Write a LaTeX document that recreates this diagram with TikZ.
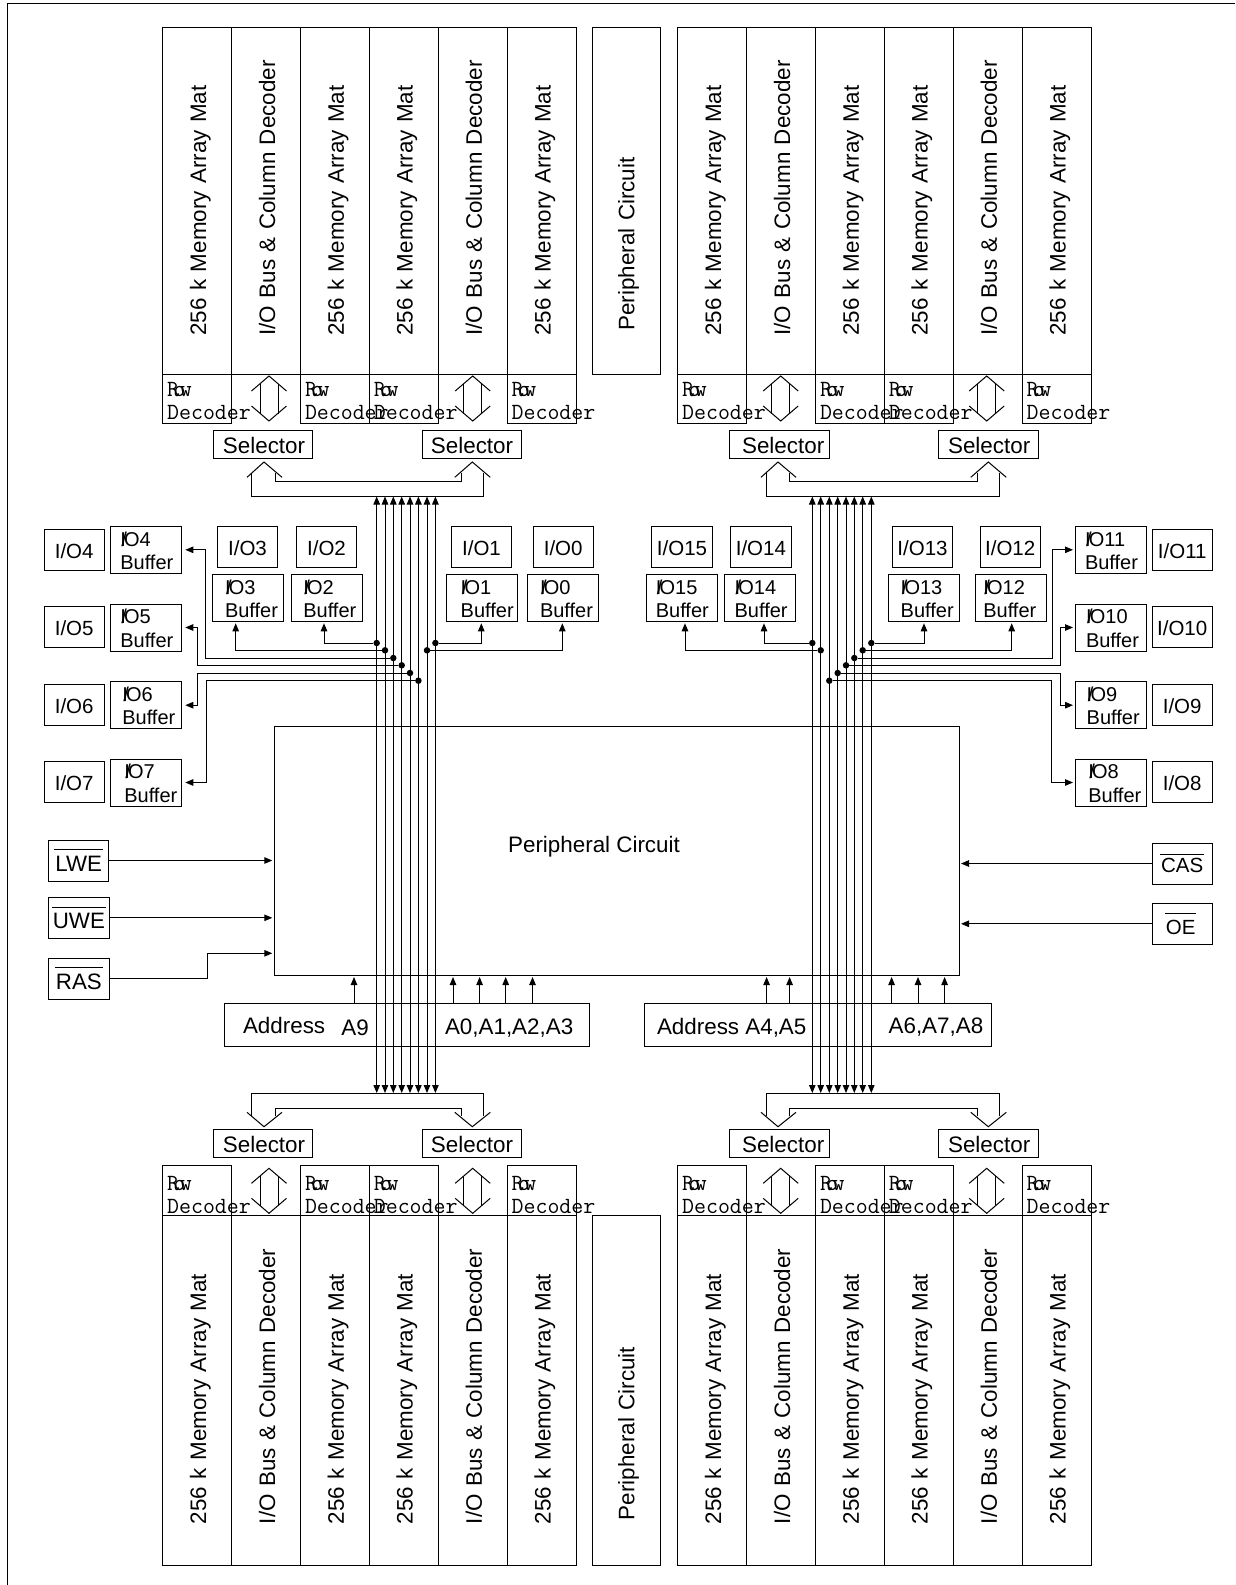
\documentclass[tikz,border=0pt]{standalone}
\usepackage{fontspec}
\setmainfont{Liberation Sans}
\usepackage{tikz}
\usetikzlibrary{arrows.meta}

\newcommand{\bigfont}{\fontsize{22.4pt}{26pt}\selectfont}
\newcommand{\iofont}{\fontsize{20.5pt}{23.3pt}\selectfont}
\newcommand{\bufffont}{\fontsize{20pt}{23.3pt}\selectfont}
\newcommand{\sigfont}{\fontsize{22.3pt}{25pt}\selectfont}
\newcommand{\rowfont}{\ttfamily\fontsize{23.2pt}{22.5pt}\selectfont}
\newcommand{\tightio}{I\kern-4.5pt/\kern-2.8pt O}
\newcommand{\matlab}{\rule{0pt}{22.4pt}256 k Memory Array Mat}
\newcommand{\buslab}{\rule{0pt}{18.4pt}I/O Bus \& Column Decoder}
\newcommand{\perlab}{\rule{0pt}{20.4pt}Peripheral Circuit}
\newcommand{\rowdec}{\mbox{R\kern-5.6pt o\kern-5.6pt w}\\\mbox{Decoder}}
\newcommand{\barsig}[2]{\vbox{\hrule height 1pt\kern#2pt\hbox{\kern1pt #1\kern1pt}}}

\begin{document}
\begin{tikzpicture}[
x=1pt, y=-1pt,
line width=1pt,
every node/.style={inner sep=0pt, outer sep=0pt},
matbox/.style={draw, rotate=90, anchor=north east, minimum height=68.9pt, align=left, font=\bigfont},
decbox/.style={draw, anchor=north west, minimum width=68.9pt, minimum height=49.5pt},
dectext/.style={anchor=south west, align=left, font=\rowfont},
selbox/.style={draw, anchor=north west, minimum width=99.7pt, minimum height=28.5pt, font=\bigfont},
iobox/.style={draw, anchor=north west, minimum width=60.4pt, minimum height=41pt, font=\iofont},
bufbox/.style={draw, anchor=north west, minimum width=71pt, minimum height=47pt, text width=71pt, align=left, font=\bufffont},
sigbox/.style={draw, anchor=north west, minimum width=60.2pt, minimum height=41pt, font=\sigfont},
addrbox/.style={draw, anchor=north west, minimum height=42.7pt},
plain/.style={font=\bigfont},
dot/.style={circle, fill=black, minimum size=6.5pt},
arrow/.style={-{Triangle[length=8pt,width=6.5pt]}, shorten >=2pt},
busline/.style={{Triangle[length=8pt,width=6.5pt]}-{Triangle[length=8pt,width=6.5pt]}}
]
\useasboundingbox (0,0) rectangle (1235,1585);

% frame
\coordinate (frameb) at (7.5,1585);
\coordinate (framec) at (7.5,3.5);
\coordinate (framer) at (1235,3.5);
\draw (frameb) -- (framec) -- (framer);

% memory blocks
\foreach \grp/\xo/\yt/\colh/\gap/\yd/\yb in {tl/162.7/27.3/346.7/38.5/374/419.3, tr/677.7/27.3/346.7/38.5/374/419.3, bl/162.7/1215.3/350.4/41.7/1165.7/1213.2, br/677.7/1215.3/350.4/41.7/1165.7/1213.2} {
    \foreach \i/\lab in {1/\matlab,2/\buslab,3/\matlab,4/\matlab,5/\buslab,6/\matlab} {
        \pgfmathsetmacro{\cx}{\xo+(\i-1)*68.9}
        \node[matbox, text width=\colh pt] (\grp\i) at (\cx,\yt) {\hspace*{\gap pt}\lab};
    }
    \foreach \i in {1,3,4,6} {
        \pgfmathsetmacro{\cx}{\xo+(\i-1)*68.9}
        \node[decbox] (rd\grp\i) at (\cx,\yd) {};
        \node[dectext] (rt\grp\i) at (\cx+4.5,\yb) {\rowdec};
    }
}
\node[matbox, text width=346.7pt] (pctop) at (592,27.3) {\hspace*{43.5pt}\perlab};
\node[matbox, text width=350.4pt] (pcbot) at (592,1215.3) {\hspace*{45.7pt}\perlab};

% double arrows between the decoders
\foreach \xc in {269,472.7,780.7,986.7} {
    \foreach \ya/\yw/\yv/\yx/\yz in {376/391/384/414/406, 1168.3/1183.3/1176.3/1206.3/1198.3} {
        \pgfmathsetmacro{\yy}{\ya+45}
        \draw ({\xc-17.5},\yw) -- (\xc,\ya) -- ({\xc+17.5},\yw);
        \draw ({\xc-17.5},\yz) -- (\xc,\yy) -- ({\xc+17.5},\yz);
        \draw ({\xc-9},\yv) -- ({\xc-9},\yx);
        \draw ({\xc+9},\yv) -- ({\xc+9},\yx);
    }
}

% selectors
\foreach \name/\xs/\ys/\off in {s1/213.2/430/2, s2/422.2/430/0, s3/729.3/430/8, s4/938.3/430/2, s5/213.2/1129/2, s6/422.2/1129/0, s7/729.3/1129/8, s8/938.3/1129/2} {
    \node[selbox] (\name) at (\xs,\ys) {\hspace*{\off pt}\rule{0pt}{19.6pt}Selector};
}

% hollow bus arrows
\foreach \xa/\xb/\xo/\xp/\xi/\xj in {264/472.3/251.7/483.7/275.7/461.7, 778/988.3/766/999.7/789.3/977.7} {
    \foreach \ya/\yw/\ys/\yi/\yo in {462/477.3/473/481.3/496, 1126.7/1112.3/1115.7/1108/1093.7} {
        \draw ({\xa-17},\yw) -- (\xa,\ya) -- ({\xa+18},\yw);
        \draw ({\xb-17.5},\yw) -- (\xb,\ya) -- ({\xb+18},\yw);
        \draw (\xo,\ys) -- (\xo,\yo) -- (\xp,\yo) -- (\xp,\ys);
        \draw (\xi,\ys) -- (\xi,\yi) -- (\xj,\yi) -- (\xj,\ys);
    }
}

% buffers
\foreach \n/\xb/\yb/\off in {4/110.3/526.3/10, 5/110.3/604/10, 6/110.3/681.7/12, 7/110.3/759/14, 3/212.3/574.3/12.7, 2/291/574.3/12.3, 1/446/574.3/14.7, 0/527/574.3/13, 15/646.8/574.3/9, 14/724.6/574.3/10, 13/888.3/574.3/12.4, 12/975.3/574.3/8, 11/1075/526.3/10, 10/1075/604/11, 9/1075/681.7/11.7, 8/1075/759/13.3} {
    \node[bufbox] (b\n) at (\xb,\yb) {\hspace*{\off pt}\rule{0pt}{16.3pt}\tightio\n\\\hspace*{\off pt}Buffer};
}

% I/O pads
\foreach \n/\xb/\yb in {4/44/529, 5/44/606.7, 6/44/684.3, 7/44/761.7, 3/217.3/526.7, 2/296.3/526.7, 1/451.3/526.7, 0/533/526.7, 15/651.8/526.7, 14/730.7/526.7, 13/892.3/526.7, 12/980/526.7, 11/1152/529, 10/1152/606.7, 9/1152/684.3, 8/1152/761.7} {
    \node[iobox] (io\n) at (\xb,\yb) {\rule{0pt}{17.7pt}I/O\n};
}

% peripheral circuit and address
\node[draw, anchor=north west, minimum width=684.7pt, minimum height=248.3pt] (periph) at (274.3,726.7) {};
\node[plain] (periphlab) at (594,847) {Peripheral Circuit};

\node[addrbox, minimum width=364.7pt] (addrl) at (224.3,1003.3) {};
\node[addrbox, minimum width=347.4pt] (addrr) at (644.3,1003.3) {};
\node[plain, anchor=west] (addrla) at (243,1025.5) {Address};
\node[plain, anchor=west] (addrlb) at (341.4,1028) {A9};
\node[plain, anchor=west] (addrlc) at (445,1028.2) {A0,A1,A2,A3};
\node[plain, anchor=west] (addrra) at (657,1028) {Address A4,A5};
\node[plain, anchor=west] (addrrb) at (888.6,1027) {A6,A7,A8};

\foreach \xa in {354,453,479.6,505.7,532.5} {
    \draw[arrow] (\xa,0 |- addrl.north) -- (\xa,0 |- periph.south);
}
\foreach \xa in {766.6,789.6,891.6,918,944.6} {
    \draw[arrow] (\xa,0 |- addrr.north) -- (\xa,0 |- periph.south);
}

% control signals
\node[sigbox] (lwe) at (48.6,840) {\barsig{LWE}{6}};
\node[sigbox] (uwe) at (48.8,897.3) {\barsig{UWE}{6}};
\node[sigbox] (ras) at (48.8,958) {\barsig{RAS}{6}};
\node[sigbox, font=\iofont] (cas) at (1152,843) {\barsig{CAS}{3}};
\node[sigbox, font=\iofont] (oe) at (1152,903.3) {\hspace*{-3pt}\barsig{OE}{6}};

\draw[arrow] (lwe) -- (lwe -| periph.west);
\draw[arrow] (uwe) -- (uwe -| periph.west);
\draw[arrow] (ras) -| (207.5,953.3) -- (periph.west |- 0,953.3);
\draw[arrow] (cas) -- (cas -| periph.east);
\draw[arrow] (oe) -- (oe -| periph.east);

% data bus
\foreach \i/\xa in {1/376.7,2/385,3/393.3,4/401.7,5/410,6/418.4,7/427,8/435.4,9/812.3,10/820.7,11/829.3,12/837.7,13/846,14/854.3,15/862.7,16/871.3} {
    \coordinate (bust\i) at (\xa,496.5);
    \coordinate (busb\i) at (\xa,1093);
    \draw[busline] (bust\i) -- (busb\i);
}

\node[dot] (d2) at (376.7,643) {};
\node[dot] (d3) at (385,650.3) {};
\node[dot] (d4) at (393.3,658) {};
\node[dot] (d5) at (401.7,665.3) {};
\node[dot] (d6) at (410,673) {};
\node[dot] (d7) at (418.4,680.7) {};
\node[dot] (d0) at (427,650.3) {};
\node[dot] (d1) at (435.4,643) {};
\node[dot] (d14) at (812.3,643) {};
\node[dot] (d15) at (820.7,650.3) {};
\node[dot] (d8) at (829.3,680.7) {};
\node[dot] (d9) at (837.7,673) {};
\node[dot] (d10) at (846,665.3) {};
\node[dot] (d11) at (854.3,658) {};
\node[dot] (d12) at (862.7,650.3) {};
\node[dot] (d13) at (871.3,643) {};

\draw[arrow] (d3) -| (235.7,0 |- b3.south);
\draw[arrow] (d2) -| (324,0 |- b2.south);
\draw[arrow] (d1) -| (481.3,0 |- b1.south);
\draw[arrow] (d0) -| (562.3,0 |- b0.south);
\draw[arrow] (d15) -| (685,0 |- b15.south);
\draw[arrow] (d14) -| (764,0 |- b14.south);
\draw[arrow] (d13) -| (924,0 |- b13.south);
\draw[arrow] (d12) -| (1011.7,0 |- b12.south);

\draw[arrow, shorten >=4pt] (d4) -| (205,0 |- b4.east) -- (b4.east);
\draw[arrow, shorten >=4pt] (d5) -| (197.7,0 |- b5.east) -- (b5.east);
\draw[arrow, shorten >=4pt] (d6) -| (197.3,0 |- b6.east) -- (b6.east);
\draw[arrow, shorten >=4pt] (d7) -| (206,0 |- b7.east) -- (b7.east);
\draw[arrow] (d11) -| (1052.7,0 |- b11.west) -- (b11.west);
\draw[arrow] (d10) -| (1060,0 |- b10.west) -- (b10.west);
\draw[arrow] (d9) -| (1060,0 |- b9.west) -- (b9.west);
\draw[arrow] (d8) -| (1051,0 |- b8.west) -- (b8.west);

\end{tikzpicture}
\end{document}
